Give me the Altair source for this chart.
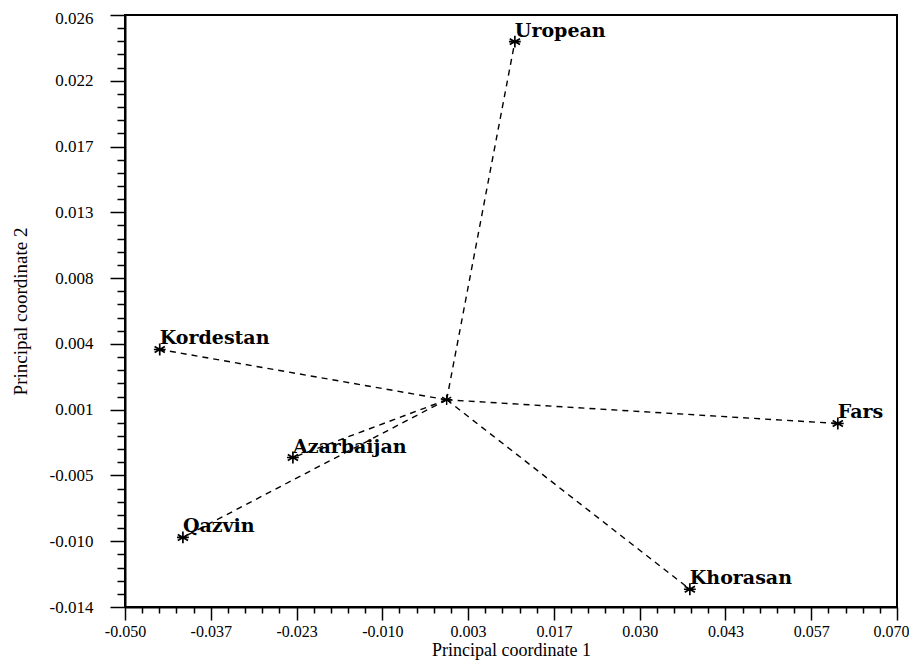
import altair as alt
import numpy as np
import pandas as pd

# ---- data ----
populations = ["Uropean", "Kordestan", "Azarbaijan", "Qazvin", "Fars", "Khorasan"]
pc1 = [0.0106, -0.0446, -0.0239, -0.0410, 0.0608, 0.0378]
pc2 = [0.0242, 0.0034, -0.0039, -0.0093, -0.0016, -0.0128]
centroid_x = [0.0]
centroid_y = [0.0]

x_tick_labels = ["-0.050", "-0.037", "-0.023", "-0.010", "0.003",
                 "0.017", "0.030", "0.043", "0.057", "0.070"]
y_tick_labels = ["-0.014", "-0.010", "-0.005", "0.001", "0.004",
                 "0.008", "0.013", "0.017", "0.022", "0.026"]
x_domain = [-0.050, 0.070]
y_domain = [-0.014, 0.026]
minor_divisions = 5

SERIF = "Liberation Serif, DejaVu Serif, serif"

# ---- tables ----
pts = pd.DataFrame({"pop": populations, "pc1": pc1, "pc2": pc2})
pts["cx"] = centroid_x[0]
pts["cy"] = centroid_y[0]
center = pd.DataFrame({"pc1": centroid_x, "pc2": centroid_y})


def tick_setup(domain, labels):
    majors = list(np.linspace(domain[0], domain[1], len(labels)))
    allv = list(np.linspace(domain[0], domain[1], (len(labels) - 1) * minor_divisions + 1))
    is_major = " || ".join(f"abs(datum.value - ({v:.9f})) < 1e-7" for v in majors)
    expr = ""
    for v, lab in zip(majors, labels):
        expr += f"abs(datum.value - ({v:.9f})) < 1e-7 ? '{lab}' : "
    expr += "''"
    return [float(v) for v in allv], is_major, expr


xvals, x_major_test, x_label_expr = tick_setup(x_domain, x_tick_labels)
yvals, y_major_test, y_label_expr = tick_setup(y_domain, y_tick_labels)
x_last = f"datum.value > {x_domain[1] - 1e-6}"
y_top = f"datum.value > {y_domain[1] - 1e-6}"

x_axis = alt.Axis(
    values=xvals, tickCount=200, labelExpr=x_label_expr, title="Principal coordinate 1",
    tickSize={"condition": {"test": x_major_test, "value": 13}, "value": 6},
    tickColor="black", tickWidth=1.5, domainColor="black", domainWidth=2,
    grid=False, labelFont=SERIF, labelFontSize=16, labelColor="black",
    labelAlign={"condition": {"test": x_last, "value": "right"}, "value": "center"},
    labelOffset={"condition": {"test": x_last, "value": 12}, "value": 0},
    labelPadding=3, labelOverlap=False, labelFlush=False, labelBound=False,
    titleFont=SERIF, titleFontSize=18, titleFontWeight="normal",
    titleColor="black", titleX=386, titleY=43, titleBaseline="middle",
)
y_axis = alt.Axis(
    values=yvals, tickCount=200, labelExpr=y_label_expr, title="Principal coordinate 2",
    tickSize={"condition": {"test": y_major_test, "value": 15}, "value": 8},
    tickColor="black", tickWidth=1.5, domainColor="black", domainWidth=2,
    grid=False, labelFont=SERIF, labelFontSize=17, labelColor="black",
    labelOffset={"condition": {"test": y_top, "value": 3}, "value": 0},
    labelPadding=17, labelOverlap=False, labelFlush=False,
    titleFont=SERIF, titleFontSize=19, titleFontWeight="normal",
    titleColor="black", titleX=-105, titleY=296, titleBaseline="middle",
)

xs = alt.Scale(domain=x_domain, nice=False, zero=False)
ys = alt.Scale(domain=y_domain, nice=False, zero=False)

rules = alt.Chart(pts).mark_rule(
    color="black", strokeDash=[6, 5], strokeWidth=1.4
).encode(
    x=alt.X("cx:Q", scale=xs, axis=x_axis),
    y=alt.Y("cy:Q", scale=ys, axis=y_axis),
    x2="pc1:Q",
    y2="pc2:Q",
)

star = "M0,-1L0,1M-0.866,-0.5L0.866,0.5M-0.866,0.5L0.866,-0.5M-1,0L1,0"

stars = alt.Chart(pts).mark_point(
    shape=star, size=140, filled=False, color="black", strokeWidth=1.7, opacity=1
).encode(x=alt.X("pc1:Q", scale=xs), y=alt.Y("pc2:Q", scale=ys))

center_star = alt.Chart(center).mark_point(
    shape=star, size=110, filled=False, color="black", strokeWidth=1.4, opacity=1
).encode(x=alt.X("pc1:Q", scale=xs), y=alt.Y("pc2:Q", scale=ys))

texts = alt.Chart(pts).mark_text(
    align="left", baseline="alphabetic", dx=0, dy=-5,
    font="DejaVu Serif", fontSize=19, fontWeight="bold", color="black"
).encode(x=alt.X("pc1:Q", scale=xs), y=alt.Y("pc2:Q", scale=ys), text="pop:N")

chart = alt.layer(rules, stars, center_star, texts).properties(
    width=772, height=592,
    autosize=alt.AutoSizeParams(type="none"),
    padding={"left": 117, "top": 7, "right": 12, "bottom": 53},
    background="white",
).configure_view(stroke="black", strokeWidth=2)

chart.save("out.html", embed_options={"renderer": "svg", "actions": False})
